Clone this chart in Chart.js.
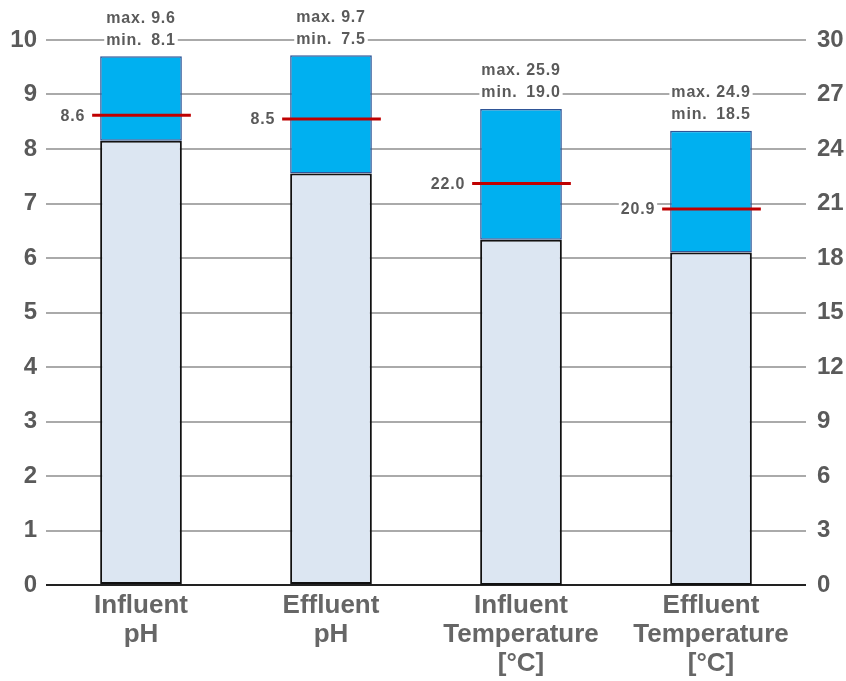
<!DOCTYPE html>
<html><head><meta charset="utf-8">
<script src="https://cdn.jsdelivr.net/npm/chart.js@4/dist/chart.umd.min.js"></script>
<style>html,body{margin:0;padding:0;background:#fff;}canvas{display:block;}</style>
</head><body>
<canvas id="c" width="846" height="681"></canvas>
<script>
// ---- data ----
const categories = [["Influent","pH"],["Effluent","pH"],["Influent","Temperature","[°C]"],["Effluent","Temperature","[°C]"]];
// bar extents (pH on left axis, temperature on right axis)
const barMin = [8.15, 7.55, 19.0, 18.3];
const barMax = [9.7, 9.72, 26.2, 25.0];
const meanVals = [8.62, 8.55, 22.1, 20.7];
// printed annotations
const maxText = ["9.6", "9.7", "25.9", "24.9"];
const minText = ["8.1", "7.5", "19.0", "18.5"];
const meanText = ["8.6", "8.5", "22.0", "20.9"];
const leftTicksMax = 10, leftStep = 1;
const rightTicksMax = 30, rightStep = 3;

const isPH = [true, true, false, false];
const lowerPH = barMin.map((v, i) => isPH[i] ? [0, v] : null);
const upperPH = barMin.map((v, i) => isPH[i] ? [v, barMax[i]] : null);
const lowerT = barMin.map((v, i) => !isPH[i] ? [0, v] : null);
const upperT = barMin.map((v, i) => !isPH[i] ? [v, barMax[i]] : null);

const LIGHT = '#dce6f2', CYAN = '#00b0f0', TXT = '#5a5a5a';
const FAM = '"Liberation Sans", Arial, sans-serif';

const annot = {
  id: 'annot',
  afterDatasetsDraw(chart) {
    const ctx = chart.ctx;
    ctx.save();
    for (let i = 0; i < categories.length; i++) {
      const meta = chart.getDatasetMeta(isPH[i] ? 1 : 3);
      const el = meta.data[i];
      const scale = chart.scales[isPH[i] ? 'y' : 'y2'];
      const left = el.x - el.width / 2, right = el.x + el.width / 2;
      const top = el.y;
      // mean line
      const my = scale.getPixelForValue(meanVals[i]);
      ctx.strokeStyle = '#c00000';
      ctx.lineWidth = 3;
      ctx.beginPath();
      ctx.moveTo(left - 8, my);
      ctx.lineTo(right + 9, my);
      ctx.stroke();
      ctx.textBaseline = 'middle';
      ctx.letterSpacing = '0.8px';
      // mean label
      ctx.font = 'bold 16px ' + FAM;
      ctx.textAlign = 'right';
      let w = ctx.measureText(meanText[i]).width;
      ctx.fillStyle = '#fff';
      ctx.fillRect(left - 15 - w - 2, my - 8, w + 4, 16);
      ctx.fillStyle = TXT;
      ctx.fillText(meanText[i], left - 15, my + 1);
      // max / min labels
      const full = 'max. ' + maxText[i];
      const fw = ctx.measureText(full).width;
      const x0 = el.x - fw / 2, x1 = el.x + fw / 2;
      const rows = [["max.", maxText[i], top - 38], ["min.", minText[i], top - 16]];
      for (const [a, b, yy] of rows) {
        ctx.fillStyle = '#fff';
        ctx.fillRect(x0 - 2, yy - 10, fw + 4, 20);
        ctx.fillStyle = TXT;
        ctx.textAlign = 'left';
        ctx.fillText(a, x0, yy);
        ctx.textAlign = 'right';
        ctx.fillText(b, x1, yy);
      }
    }
    ctx.restore();
  }
};

new Chart(document.getElementById('c'), {
  type: 'bar',
  data: {
    labels: categories,
    datasets: [
      { data: lowerPH, yAxisID: 'y', backgroundColor: LIGHT, borderColor: '#111', borderWidth: 2, borderSkipped: false },
      { data: upperPH, yAxisID: 'y', backgroundColor: CYAN, borderColor: '#2f5597', borderWidth: 1.5, borderSkipped: false },
      { data: lowerT, yAxisID: 'y2', backgroundColor: LIGHT, borderColor: '#111', borderWidth: 2, borderSkipped: false },
      { data: upperT, yAxisID: 'y2', backgroundColor: CYAN, borderColor: '#2f5597', borderWidth: 1.5, borderSkipped: false }
    ]
  },
  options: {
    responsive: false,
    animation: false,
    layout: { padding: { top: 40, left: 0, right: 0, bottom: 0 } },
    plugins: { legend: { display: false }, tooltip: { enabled: false } },
    datasets: { bar: { categoryPercentage: 1, barPercentage: 0.43, grouped: false } },
    scales: {
      x: {
        stacked: true,
        grid: { display: false, drawTicks: false },
        border: { display: false },
        ticks: { color: '#666', font: { family: FAM, size: 26, weight: 'bold', lineHeight: 1.12 }, padding: 6, maxRotation: 0, autoSkip: false },
        afterFit(s) { s.height = 96; }
      },
      y: {
        position: 'left', min: 0, max: leftTicksMax,
        ticks: { stepSize: leftStep, color: TXT, padding: 9, font: { family: FAM, size: 24, weight: 'bold' } },
        grid: { drawTicks: false, lineWidth: 2, color: c => c.tick && c.tick.value === 0 ? '#222' : '#aaaaaa' },
        border: { display: false },
        afterFit(s) { s.width = 46; }
      },
      y2: {
        position: 'right', min: 0, max: rightTicksMax,
        ticks: { stepSize: rightStep, color: TXT, padding: 11, font: { family: FAM, size: 24, weight: 'bold' } },
        grid: { display: false, drawTicks: false },
        border: { display: false },
        afterFit(s) { s.width = 40; }
      }
    }
  },
  plugins: [annot]
});
</script>
</body></html>
